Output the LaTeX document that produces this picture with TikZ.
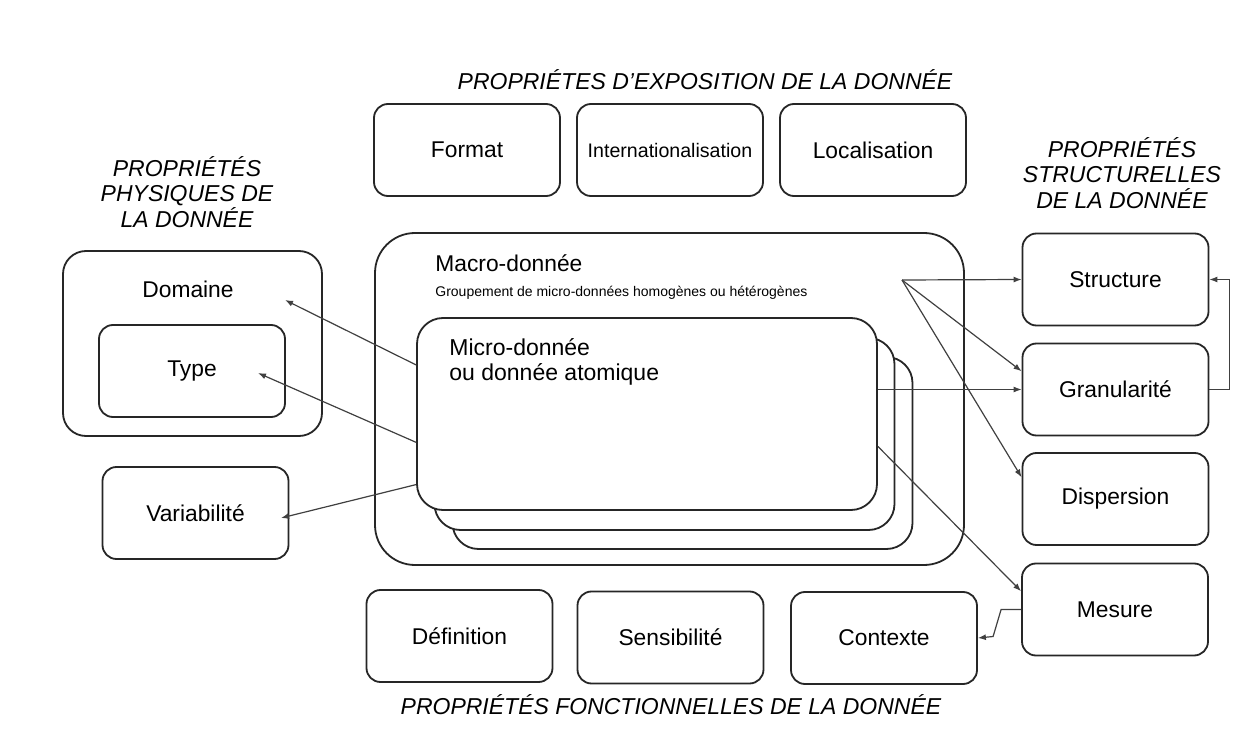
\documentclass[tikz,border=0pt]{standalone}
\usepackage{fontspec}
\setmainfont{Liberation Sans}
\usetikzlibrary{arrows.meta}

\begin{document}
\begin{tikzpicture}[x=0.5pt,y=-0.5pt,
        box/.style={draw=black!85,line width=0.9pt,rounded corners=7pt,fill=white,minimum width=93pt,minimum height=46pt},
        stack/.style={draw=black!85,line width=0.9pt,rounded corners=13pt,fill=white,minimum width=230pt,minimum height=96pt},
        arr/.style={draw=black!75,line width=0.6pt,-{Latex[length=4pt,width=3pt]}},
        ttl/.style={font=\fontsize{11.5}{12.75}\selectfont\itshape,align=center}]
        \useasboundingbox (0,0) rectangle (1255,738);
        \def \Boxes{ fmt/467/150/Format/11.4, intl/670/150/Internationalisation/9.8, loc/873/150/Localisation/11.4,
            def/459.5/636/Définition/11.4, sens/670.5/637.5/Sensibilité/11.4, ctx/884/638/Contexte/11.4,
            struct/1115.5/279.5/Structure/11.4, gran/1115.5/389.5/Granularité/11.4, disp/1115.5/499/Dispersion/11.4, mes/1115/609.5/Mesure/11.4,
            var/195.5/513/Variabilité/11.4}
        \node[ttl] (ttlexpo) at (705,80) {PROPRIÉTES D'EXPOSITION DE LA DONNÉE};
        \node[ttl] (ttlphys) at (187,192) {PROPRIÉTÉS\\PHYSIQUES DE\\LA DONNÉE};
        \node[ttl] (ttlstruct) at (1122,173) {PROPRIÉTÉS\\STRUCTURELLES\\DE LA DONNÉE};
        \node[ttl] (ttlfonc) at (671,705) {PROPRIÉTÉS FONCTIONNELLES DE LA DONNÉE};
        \foreach \id / \x / \y / \t / \s in \Boxes{
            \node[box,font=\fontsize{\s}{13}\selectfont] (\id) at (\x, \y) {\t};
        }
        \node[box,rounded corners=11.5pt,minimum width=129.5pt,minimum height=92.5pt] (dom) at (192.5,343.5) {};
        \node[font=\fontsize{11.4}{13}\selectfont] (domtxt) at (188,289) {Domaine};
        \node[box,font=\fontsize{11.4}{13}\selectfont] (type) at (192,371) {Type};
        \node[box,rounded corners=20pt,minimum width=294.5pt,minimum height=166pt] (macro) at (669.5,399) {};
        \node[anchor=west,inner sep=0pt,font=\fontsize{11.4}{13}\selectfont] (macrotxt) at (435,263) {Macro-donnée};
        \node[anchor=west,inner sep=0pt,font=\fontsize{7}{8}\selectfont] (macrosub) at (435,293) {Groupement de micro-données homogènes ou hétérogènes};
        \node[stack] (micro3) at (682.5,453) {};
        \node[stack] (micro2) at (664.5,434) {};
        \node[stack] (micro) at (647,414) {};
        \node[anchor=west,inner sep=0pt,align=left,font=\fontsize{11.5}{12.5}\selectfont] (microtxt) at (449,362) {Micro-donnée\\ou donnée atomique};
        \coordinate (hub) at (902,280);
        \coordinate (domtip) at (285,300);
        \coordinate (typetip) at (258,373);
        \coordinate (vartip) at (281,518);
        \foreach \a / \b in { micro.168.7/domtip, micro.187/typetip, micro.197/vartip, hub/struct.west, hub/gran.169, hub/disp.167, micro.352/mes.169}{
            \path[arr] (\a) -- (\b);
        }
        \path[arr] (micro.east |- gran.west) -- (gran.west);
        \path[arr] (gran.east) -- ++(20,0) |- (struct.east);
        \path[arr] (mes.west) -- ++(-20,0) -- ++(-8,27) -- (ctx.east);
    \end{tikzpicture}
\end{document}
